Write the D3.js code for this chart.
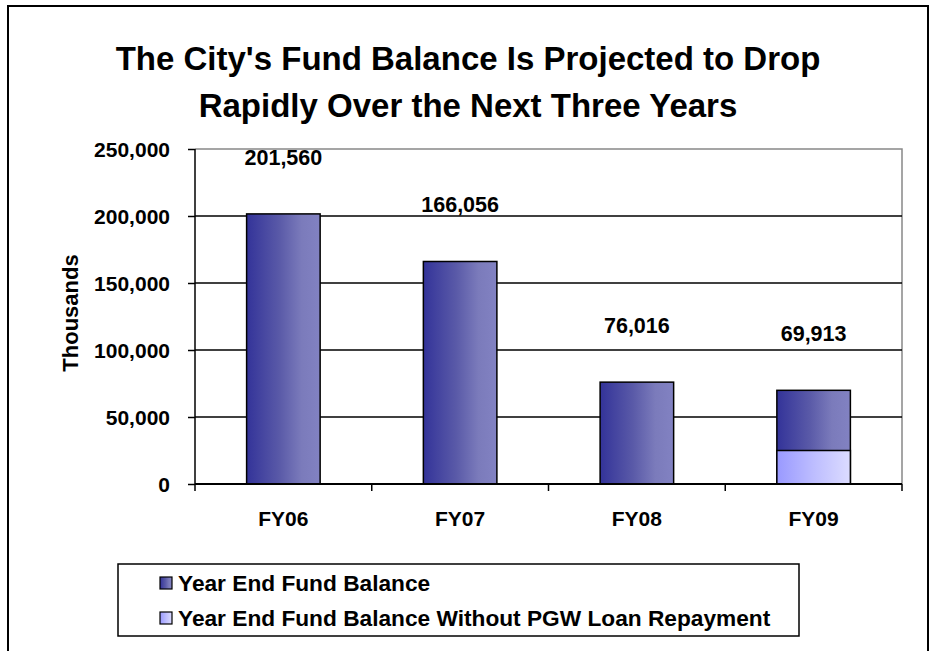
<!DOCTYPE html>
<html><head><meta charset="utf-8">
<script src="https://cdn.jsdelivr.net/npm/d3@7"></script>
<style>
html,body{margin:0;padding:0;background:#fff;}
svg text{font-family:"Liberation Sans",Arial,sans-serif;font-weight:bold;fill:#000;}
</style></head>
<body>
<svg id="chart" width="931" height="651"></svg>
<script>
const categories = ["FY06", "FY07", "FY08", "FY09"];
const yearEndBalance = [201560, 166056, 76016, 69913];
const withoutPGW = [null, null, null, 25000];
const valueLabels = ["201,560", "166,056", "76,016", "69,913"];
const yTicks = [0, 50000, 100000, 150000, 200000, 250000];
const seriesNames = ["Year End Fund Balance", "Year End Fund Balance Without PGW Loan Repayment"];
const titleLines = ["The City's Fund Balance Is Projected to Drop", "Rapidly Over the Next Three Years"];

const svg = d3.select("#chart");
const defs = svg.append("defs");
function grad(id, stops){
  const g = defs.append("linearGradient").attr("id", id).attr("x1","0").attr("x2","1").attr("y1","0").attr("y2","0");
  stops.forEach(s => g.append("stop").attr("offset", s[0]).attr("stop-color", s[1]));
}
grad("gDark", [["0%","#333399"],["45%","#5a5aa8"],["75%","#7b7bbb"],["100%","#8282c2"]]);
grad("gLight", [["0%","#9999ff"],["50%","#bdbdff"],["100%","#dcdcff"]]);

// outer frame
svg.append("rect").attr("x", 8).attr("y", 6).attr("width", 920).attr("height", 660)
  .attr("fill", "none").attr("stroke", "#000").attr("stroke-width", 2);

// title
const title = svg.append("text").attr("text-anchor", "middle").style("font-size", "33px");
titleLines.forEach((t, i) => title.append("tspan").attr("x", 468).attr("y", 70 + i * 47).text(t));

const L = 195, R = 902, T = 149, B = 484;
const y = d3.scaleLinear().domain([0, 250000]).range([B, T]);
const x = d3.scaleBand().domain(categories).range([L, R]).paddingInner(0.584).paddingOuter(0.292);
const xCat = d3.scaleBand().domain(categories).range([L, R]).padding(0);

// plot border top/right (gray)
svg.append("path").attr("d", `M${L},${T}H${R}V${B}`).attr("fill", "none").attr("stroke", "#888").attr("stroke-width", 1.5);

// gridlines
svg.append("g").selectAll("line").data(yTicks.filter(d => d > 0 && d < 250000)).join("line")
  .attr("x1", L).attr("x2", R).attr("y1", d => y(d)).attr("y2", d => y(d))
  .attr("stroke", "#000").attr("stroke-width", 1.5);

// bars
const bars = svg.append("g");
bars.selectAll("rect.dark").data(categories).join("rect").attr("class", "dark")
  .attr("x", d => x(d)).attr("width", x.bandwidth())
  .attr("y", (d, i) => y(yearEndBalance[i])).attr("height", (d, i) => y(0) - y(yearEndBalance[i]))
  .attr("fill", "url(#gDark)").attr("stroke", "#000").attr("stroke-width", 1.5);
bars.selectAll("rect.light").data(categories.filter((d, i) => withoutPGW[i] != null)).join("rect").attr("class", "light")
  .attr("x", d => x(d)).attr("width", x.bandwidth())
  .attr("y", d => y(withoutPGW[categories.indexOf(d)])).attr("height", d => y(0) - y(withoutPGW[categories.indexOf(d)]))
  .attr("fill", "url(#gLight)").attr("stroke", "#000").attr("stroke-width", 1.5);

// value labels
svg.append("g").selectAll("text").data(categories).join("text")
  .attr("x", d => x(d) + x.bandwidth() / 2).attr("y", (d, i) => y(yearEndBalance[i]) - 49)
  .attr("text-anchor", "middle").style("font-size", "21.5px").text((d, i) => valueLabels[i]);

// y axis
const yAxis = svg.append("g").attr("transform", `translate(${L},0)`)
  .call(d3.axisLeft(y).tickValues(yTicks).tickSize(7).tickPadding(18).tickFormat(d3.format(",")));
yAxis.select(".domain").attr("stroke", "#000").attr("stroke-width", 1.5).attr("d", `M0,${T}V${B}`);
yAxis.selectAll(".tick line").attr("stroke", "#000").attr("stroke-width", 1.5);
yAxis.selectAll(".tick text").style("font-size", "21px").attr("font-family", null).attr("dy", "0.36em");

// x axis
const xAxis = svg.append("g").attr("transform", `translate(0,${B})`);
xAxis.append("line").attr("x1", L).attr("x2", R).attr("y1", 0).attr("y2", 0).attr("stroke", "#000").attr("stroke-width", 2);
xAxis.selectAll("line.tk").data([0, 1, 2, 3, 4]).join("line").attr("class", "tk")
  .attr("x1", d => L + d * xCat.step()).attr("x2", d => L + d * xCat.step())
  .attr("y1", 0).attr("y2", 7).attr("stroke", "#000").attr("stroke-width", 1.5);
xAxis.selectAll("text").data(categories).join("text")
  .attr("x", d => xCat(d) + xCat.bandwidth() / 2).attr("y", 42)
  .attr("text-anchor", "middle").style("font-size", "21px").text(d => d);

// y axis title
svg.append("text").attr("transform", "translate(78,313) rotate(-90)")
  .attr("text-anchor", "middle").style("font-size", "22px").text("Thousands");

// legend
const lg = svg.append("g");
lg.append("rect").attr("x", 118).attr("y", 564).attr("width", 681).attr("height", 72)
  .attr("fill", "#fff").attr("stroke", "#000").attr("stroke-width", 1.5);
const fills = ["url(#gDark)", "url(#gLight)"];
seriesNames.forEach((s, i) => {
  const yy = 591 + i * 35;
  lg.append("rect").attr("x", 160).attr("y", yy - 14).attr("width", 12).attr("height", 12)
    .attr("fill", fills[i]).attr("stroke", "#000").attr("stroke-width", 1.2);
  lg.append("text").attr("x", 178).attr("y", yy).style("font-size", "22.7px").text(s);
});
</script>
</body></html>
